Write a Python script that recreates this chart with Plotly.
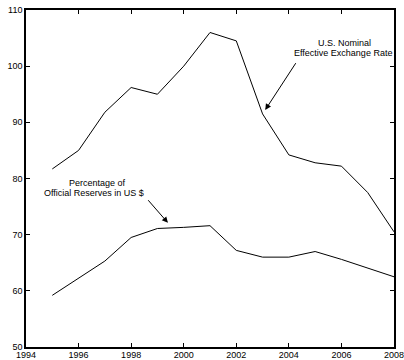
import plotly.graph_objects as go

years = [1995, 1996, 1997, 1998, 1999, 2000, 2001, 2002, 2003, 2004, 2005, 2006, 2007, 2008]
exchange_rate = [81.7, 85.0, 91.8, 96.2, 95.0, 100.0, 106.0, 104.5, 91.5, 84.2, 82.8, 82.2, 77.5, 70.5]
reserves_share = [59.2, 62.2, 65.3, 69.5, 71.1, 71.3, 71.6, 67.2, 66.0, 66.0, 67.0, 65.6, 64.0, 62.5]

x_ticks = [1994, 1996, 1998, 2000, 2002, 2004, 2006, 2008]
y_ticks = [50, 60, 70, 80, 90, 100, 110]

font = dict(family="Liberation Sans, Arial, sans-serif", size=9, color="black")

fig = go.Figure()
fig.add_trace(go.Scatter(x=years, y=exchange_rate, mode="lines",
                         line=dict(color="black", width=1), showlegend=False))
fig.add_trace(go.Scatter(x=years, y=reserves_share, mode="lines",
                         line=dict(color="black", width=1), showlegend=False))

# two-line series labels, one annotation per line for tight spacing
label_lines = [
    ("U.S. Nominal", 2006.1, 104.1),
    ("Effective Exchange Rate", 2006.05, 102.3),
    ("Percentage of", 1996.73, 79.2),
    ("Official Reserves in US $", 1996.6, 77.35),
]
for text, lx, ly in label_lines:
    fig.add_annotation(x=lx, y=ly, text=text, showarrow=False, font=font,
                       xanchor="center", yanchor="middle")

# arrows pointing at each series
fig.add_annotation(x=2003.1, y=92.2, ax=2004.3, ay=100.8, xref="x", yref="y",
                   axref="x", ayref="y", text="", showarrow=True,
                   arrowhead=2, arrowsize=1.2, arrowwidth=1, arrowcolor="black")
fig.add_annotation(x=1999.4, y=72.1, ax=1998.6, ay=76.4, xref="x", yref="y",
                   axref="x", ayref="y", text="", showarrow=True,
                   arrowhead=2, arrowsize=1.2, arrowwidth=1, arrowcolor="black")

axis_common = dict(showgrid=False, zeroline=False, showline=True, linecolor="black",
                   linewidth=1.5, mirror="allticks", ticks="inside", ticklen=4,
                   tickcolor="black", tickwidth=1, tickfont=font, automargin=False,
                   ticklabeloverflow="allow")

fig.update_xaxes(range=[1994, 2008], tickvals=x_ticks,
                 ticktext=[str(v) for v in x_ticks], ticklabelstandoff=-2, **axis_common)
fig.update_yaxes(range=[50, 110], tickvals=y_ticks,
                 ticktext=[str(v) for v in y_ticks], **axis_common)

fig.update_layout(width=404, height=360, margin=dict(l=26, r=10, t=10, b=13),
                  plot_bgcolor="white", paper_bgcolor="white", font=font)

fig.write_html("out.html")
